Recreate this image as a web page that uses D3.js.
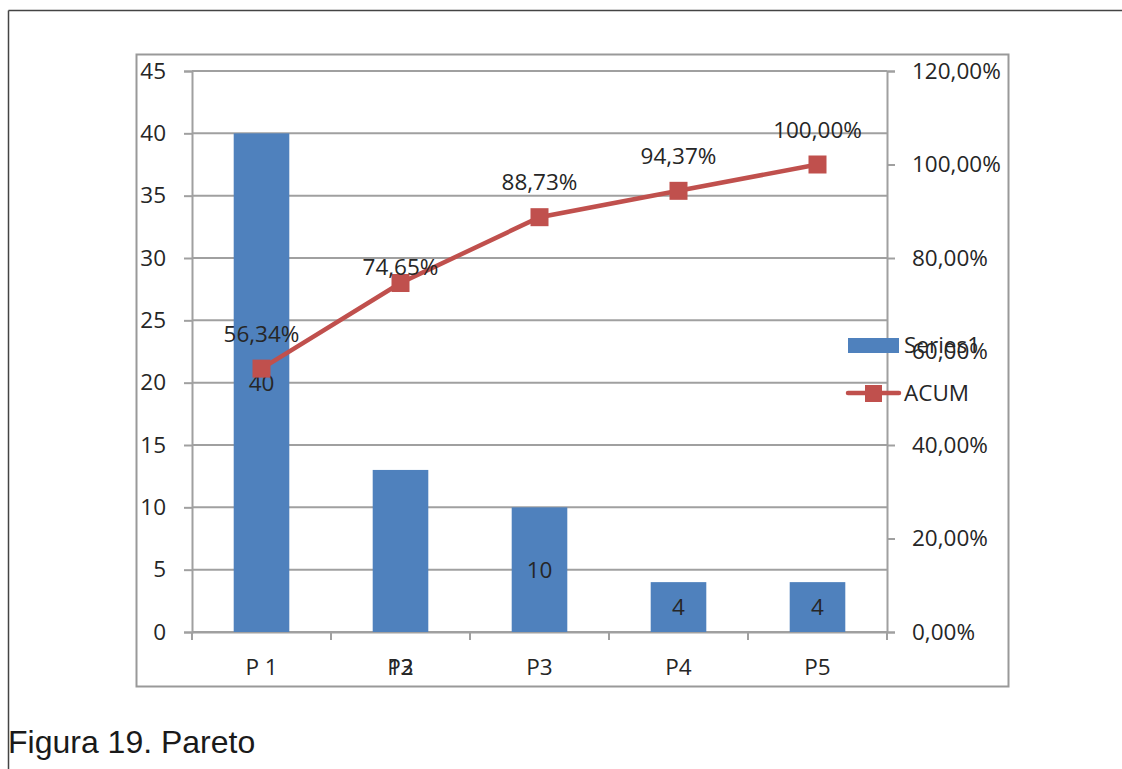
<!DOCTYPE html>
<html lang="en">
<head>
    <meta charset="UTF-8">
    <title>Pareto</title>
    <style>
        body { margin: 0; background: #fff; }
        svg { display: block; }
        .lbl { font-family: "Open Sans", sans-serif; font-size: 22.5px; fill: #262626; }
    </style>
</head>
<body>
<div id="chart"></div>
<script src="https://cdn.jsdelivr.net/npm/d3@7"></script>
<script>
    // data
    var categories = ["P 1", "P2", "P3", "P4", "P5"];
    var counts = [40, 13, 10, 4, 4];
    var acum = [0.5634, 0.7465, 0.8873, 0.9437, 1.0];
    var leftTicks = [0, 5, 10, 15, 20, 25, 30, 35, 40, 45];
    var rightTicks = [0, 0.2, 0.4, 0.6, 0.8, 1.0, 1.2];

    var width = 1122, height = 769;
    var plot = {left: 192, right: 887, top: 71, bottom: 632};

    var svg = d3.select("#chart").append("svg")
        .attr("width", width)
        .attr("height", height);

    // page frame lines
    svg.append("line").attr("x1", 8.5).attr("x2", width).attr("y1", 10.5).attr("y2", 10.5)
        .style("stroke", "#444").style("stroke-width", 1.5);
    svg.append("line").attr("x1", 8.5).attr("x2", 8.5).attr("y1", 10.5).attr("y2", height)
        .style("stroke", "#444").style("stroke-width", 1.5);

    // chart box
    svg.append("rect").attr("x", 136.5).attr("y", 54.5).attr("width", 872).attr("height", 632)
        .style("fill", "none").style("stroke", "#999").style("stroke-width", 2);

    var x = d3.scaleBand().domain(categories).range([plot.left, plot.right]).paddingInner(0).paddingOuter(0);
    var y = d3.scaleLinear().domain([0, 45]).range([plot.bottom, plot.top]);
    var y2 = d3.scaleLinear().domain([0, 1.2]).range([plot.bottom, plot.top]);

    // gridlines
    svg.append("g").selectAll("line").data(leftTicks).enter().append("line")
        .attr("x1", plot.left).attr("x2", plot.right)
        .attr("y1", function(d) { return y(d); }).attr("y2", function(d) { return y(d); })
        .style("stroke", "#a0a0a0").style("stroke-width", 2);

    // left axis
    var yAxis = svg.append("g").attr("transform", "translate(" + plot.left + ",0)")
        .call(d3.axisLeft(y).tickValues(leftTicks).tickSize(8).tickPadding(18));
    yAxis.select(".domain").style("stroke", "#a0a0a0").style("stroke-width", 2);
    yAxis.selectAll(".tick line").style("stroke", "#a0a0a0").style("stroke-width", 2);
    yAxis.selectAll("text").attr("class", "lbl").attr("fill", null);

    // right axis
    var fmtPct = function(d) { return d3.format(".2f")(d * 100).replace(".", ",") + "%"; };
    var yAxis2 = svg.append("g").attr("transform", "translate(" + plot.right + ",0)")
        .call(d3.axisRight(y2).tickValues(rightTicks).tickSize(8).tickPadding(17).tickFormat(fmtPct));
    yAxis2.select(".domain").style("stroke", "#a0a0a0").style("stroke-width", 2);
    yAxis2.selectAll(".tick line").style("stroke", "#a0a0a0").style("stroke-width", 2);
    yAxis2.selectAll("text").attr("class", "lbl").attr("fill", null);

    // bottom axis
    var xPad = 27;
    var xAxis = svg.append("g").attr("transform", "translate(0," + plot.bottom + ")")
        .call(d3.axisBottom(x).tickSize(0).tickPadding(xPad));
    xAxis.select(".domain").style("stroke", "#a0a0a0").style("stroke-width", 2);
    xAxis.selectAll("text").attr("class", "lbl").attr("fill", null);
    svg.append("g").selectAll("line").data(categories.concat([null])).enter().append("line")
        .attr("x1", function(d, i) { return plot.left + i * x.bandwidth(); })
        .attr("x2", function(d, i) { return plot.left + i * x.bandwidth(); })
        .attr("y1", plot.bottom).attr("y2", plot.bottom + 8)
        .style("stroke", "#a0a0a0").style("stroke-width", 2);

    // bars
    var barW = x.bandwidth() * 0.4;
    svg.append("g").selectAll("rect").data(counts).enter().append("rect")
        .attr("x", function(d, i) { return x(categories[i]) + (x.bandwidth() - barW) / 2; })
        .attr("y", function(d) { return y(d); })
        .attr("width", barW)
        .attr("height", function(d) { return plot.bottom - y(d); })
        .style("fill", "#4f81bd");

    // bar labels (the 13 sits down on the category label, as in the original)
    svg.append("g").selectAll("text").data(counts).enter().append("text")
        .attr("class", "lbl")
        .attr("text-anchor", "middle")
        .attr("x", function(d, i) { return x(categories[i]) + x.bandwidth() / 2; })
        .attr("y", function(d, i) { return i === 1 ? plot.bottom + xPad : (y(d) + plot.bottom) / 2; })
        .attr("dy", function(d, i) { return i === 1 ? "0.71em" : "0.35em"; })
        .text(function(d) { return d; });

    // cumulative line
    var cx = function(i) { return x(categories[i]) + x.bandwidth() / 2; };
    var line = d3.line()
        .x(function(d, i) { return cx(i); })
        .y(function(d) { return y2(d); });
    svg.append("path").datum(acum)
        .attr("d", line)
        .style("fill", "none").style("stroke", "#c0504d").style("stroke-width", 4.5);
    svg.append("g").selectAll("rect").data(acum).enter().append("rect")
        .attr("x", function(d, i) { return cx(i) - 9; })
        .attr("y", function(d) { return y2(d) - 9; })
        .attr("width", 18).attr("height", 18)
        .style("fill", "#c0504d");

    svg.append("g").selectAll("text").data(acum).enter().append("text")
        .attr("class", "lbl")
        .attr("text-anchor", "middle")
        .attr("x", function(d, i) { return cx(i); })
        .attr("y", function(d, i) { return y2(d) - (i === 1 ? 8 : 27); })
        .text(fmtPct);

    // legend
    var lg = svg.append("g");
    lg.append("rect").attr("x", 848).attr("y", 338).attr("width", 51).attr("height", 15).style("fill", "#4f81bd");
    lg.append("text").attr("class", "lbl").attr("x", 904).attr("y", 353).text("Series1");
    lg.append("line").attr("x1", 848).attr("x2", 899).attr("y1", 393).attr("y2", 393)
        .style("stroke", "#c0504d").style("stroke-width", 4.5).style("stroke-linecap", "round");
    lg.append("rect").attr("x", 865).attr("y", 385).attr("width", 17).attr("height", 17).style("fill", "#c0504d");
    lg.append("text").attr("class", "lbl").attr("x", 904).attr("y", 401).text("ACUM");

    // caption
    svg.append("text").attr("x", 8).attr("y", 753)
        .style("font-family", "'Liberation Sans', Arial, sans-serif")
        .style("font-size", "32px").style("fill", "#1a1a1a")
        .text("Figura 19. Pareto");
</script>
</body>
</html>
